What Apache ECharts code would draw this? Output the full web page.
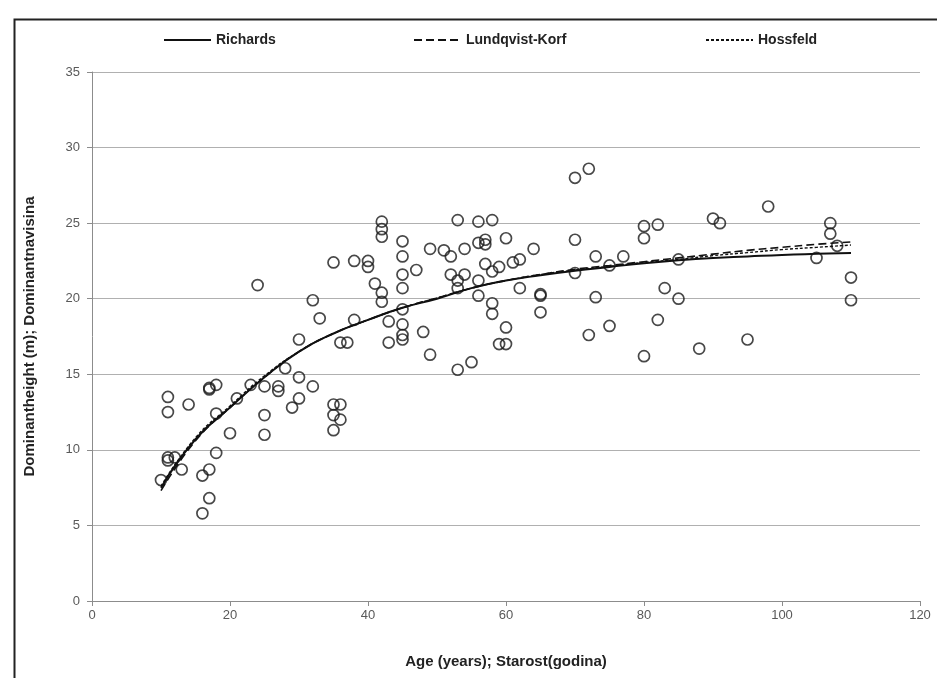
<!DOCTYPE html>
<html>
<head>
<meta charset="utf-8">
<script src="https://cdn.jsdelivr.net/npm/echarts@6/dist/echarts.min.js"></script>
<style>
html,body{margin:0;padding:0;background:#fff;}
#chart{width:937px;height:678px;}
</style>
</head>
<body>
<div id="chart"></div>
<script>
// Observed data: age (years) and dominant height (m)
var obsAge = [10,11,11,11,11,12,13,14,16,16,17,17,17,17,18,18,18,20,21,23,24,25,25,25,27,27,28,29,30,30,30,32,32,33,35,35,35,35,36,36,36,37,38,38,40,40,41,42,42,42,42,42,43,43,45,45,45,45,45,45,45,45,47,48,49,49,51,52,52,53,53,53,53,54,54,55,56,56,56,56,57,57,57,58,58,58,58,59,59,60,60,60,61,62,62,64,65,65,65,70,70,70,72,72,73,73,75,75,77,80,80,80,82,82,83,85,85,88,90,91,95,98,105,107,107,108,110,110];
var obsHeight = [8.0,13.5,12.5,9.5,9.3,9.5,8.7,13.0,8.3,5.8,14.1,14.0,8.7,6.8,14.3,12.4,9.8,11.1,13.4,14.3,20.9,14.2,12.3,11.0,14.2,13.9,15.4,12.8,17.3,14.8,13.4,19.9,14.2,18.7,22.4,13.0,12.3,11.3,17.1,13.0,12.0,17.1,22.5,18.6,22.5,22.1,21.0,25.1,24.6,24.1,20.4,19.8,18.5,17.1,23.8,22.8,21.6,20.7,19.3,18.3,17.6,17.3,21.9,17.8,23.3,16.3,23.2,22.8,21.6,25.2,21.2,20.7,15.3,23.3,21.6,15.8,25.1,23.7,21.2,20.2,23.9,23.6,22.3,25.2,21.8,19.7,19.0,22.1,17.0,24.0,18.1,17.0,22.4,22.6,20.7,23.3,20.3,20.2,19.1,28.0,23.9,21.7,28.6,17.6,22.8,20.1,22.2,18.2,22.8,24.8,24.0,16.2,24.9,18.6,20.7,22.6,20.0,16.7,25.3,25.0,17.3,26.1,22.7,25.0,24.3,23.5,21.4,19.9];

// Fitted curves, values
var curveAge      = [10,15,20,25,30,35,40,45,50,55,60,65,70,75,80,85,90,95,100,105,110];
var richards      = [7.5,10.7,12.8,14.8,16.5,17.7,18.6,19.4,20.0,20.7,21.2,21.55,21.85,22.1,22.35,22.55,22.7,22.8,22.9,22.97,23.03];
var lundqvistKorf = [7.3,10.6,12.8,14.8,16.5,17.7,18.6,19.4,20.05,20.7,21.2,21.6,21.95,22.2,22.45,22.7,22.95,23.2,23.4,23.6,23.75];
var hossfeld      = [7.6,10.8,12.9,14.9,16.5,17.7,18.6,19.4,20.05,20.7,21.2,21.6,21.9,22.15,22.4,22.6,22.85,23.05,23.25,23.4,23.55];

var xTicks = {min:0, max:120, interval:20};
var yTicks = {min:0, max:35, interval:5};

function pairs(xs, ys){ var out=[]; for (var i=0;i<xs.length;i++) out.push([xs[i], ys[i]]); return out; }

var chart = echarts.init(document.getElementById('chart'), null, {renderer:'canvas'});
var labelFont = "'Liberation Sans', 'Open Sans', sans-serif";
var legendBase = {
  top: 28, itemWidth: 47, itemHeight: 14, itemGap: 8,
  itemStyle: {opacity: 0},
  textStyle: {fontFamily: labelFont, fontWeight: 'bold', fontSize: 14, color: '#222'},
  selectedMode: false
};
chart.setOption({
  animation: false,
  backgroundColor: '#fff',
  graphic: [{
    type: 'rect', left: 12, top: 17, silent: true,
    shape: {width: 940, height: 700},
    style: {fill: 'none', stroke: '#222', lineWidth: 2}
  }],
  legend: [
    Object.assign({}, legendBase, {left: 158, data: ['Richards']}),
    Object.assign({}, legendBase, {left: 408, data: ['Lundqvist-Korf']}),
    Object.assign({}, legendBase, {left: 700, data: ['Hossfeld']})
  ],
  grid: {left: 92, right: 17, top: 72, bottom: 77, containLabel: false},
  xAxis: {
    type: 'value', min: xTicks.min, max: xTicks.max, interval: xTicks.interval,
    name: 'Age (years); Starost(godina)', nameLocation: 'middle', nameGap: 53,
    nameTextStyle: {fontFamily: labelFont, fontWeight: 'bold', fontSize: 15, color: '#222'},
    axisLine: {show: true, lineStyle: {color: '#8c8c8c', width: 1}},
    axisTick: {show: true, length: 5, lineStyle: {color: '#8c8c8c'}},
    axisLabel: {margin: 8, fontFamily: labelFont, fontSize: 13, color: '#595959'},
    splitLine: {show: false}
  },
  yAxis: {
    type: 'value', min: yTicks.min, max: yTicks.max, interval: yTicks.interval,
    name: 'Dominantheight (m); Dominantnavisina', nameLocation: 'middle', nameGap: 55,
    nameRotate: 90,
    nameTextStyle: {fontFamily: labelFont, fontWeight: 'bold', fontSize: 15, color: '#222'},
    axisLine: {show: true, lineStyle: {color: '#8c8c8c', width: 1}},
    axisTick: {show: true, length: 5, lineStyle: {color: '#8c8c8c'}},
    axisLabel: {margin: 12, fontFamily: labelFont, fontSize: 13, color: '#595959'},
    splitLine: {show: true, lineStyle: {color: '#b0b0b0', width: 1}}
  },
  series: [
    {
      name: 'Observed', type: 'scatter', data: pairs(obsAge, obsHeight),
      symbol: 'circle', symbolSize: 11,
      itemStyle: {color: 'rgba(255,255,255,0)', borderColor: '#1a1a1a', borderWidth: 1.7},
      z: 2
    },
    {
      name: 'Richards', type: 'line', data: pairs(curveAge, richards), smooth: true,
      symbol: 'none', lineStyle: {color: '#111', width: 2, type: 'solid'},
      itemStyle: {color: '#111'}, z: 3
    },
    {
      name: 'Lundqvist-Korf', type: 'line', data: pairs(curveAge, lundqvistKorf), smooth: true,
      symbol: 'none', lineStyle: {color: '#111', width: 1.6, type: [8, 4]},
      itemStyle: {color: '#111'}, z: 3
    },
    {
      name: 'Hossfeld', type: 'line', data: pairs(curveAge, hossfeld), smooth: true,
      symbol: 'none', lineStyle: {color: '#111', width: 1.4, type: [3, 2]},
      itemStyle: {color: '#111'}, z: 3
    }
  ]
});
</script>
</body>
</html>
